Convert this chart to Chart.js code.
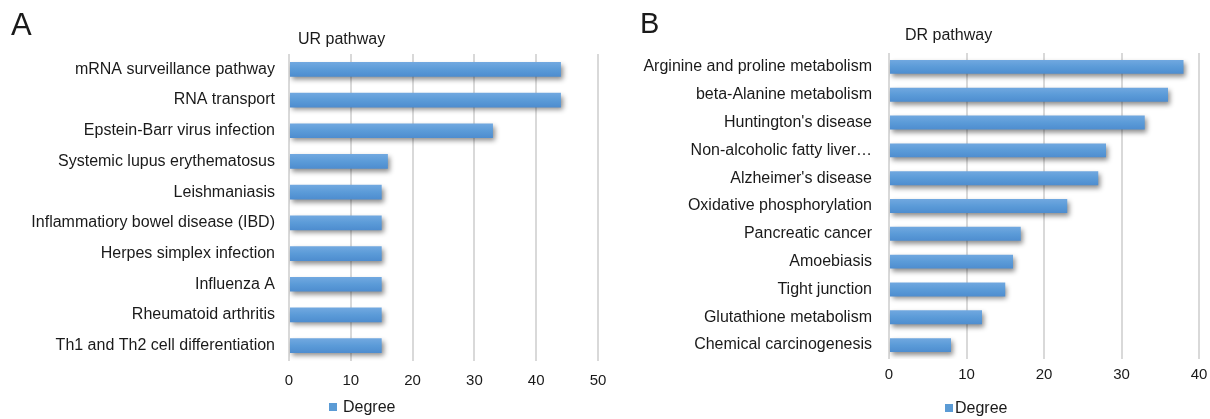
<!DOCTYPE html>
<html>
<head>
<meta charset="utf-8">
<script src="https://cdn.jsdelivr.net/npm/chart.js@4.4.1/dist/chart.umd.min.js"></script>
<style>
  html, body { margin: 0; padding: 0; background: #fff; }
  #wrap { position: relative; width: 1210px; height: 419px; overflow: hidden; }
  .panel { position: absolute; top: 0; height: 419px; }
  #panelA { left: 0; width: 620px; }
  #panelB { left: 620px; width: 590px; }
</style>
</head>
<body>
<div id="wrap">
  <div class="panel" id="panelA"><canvas id="chartA"></canvas></div>
  <div class="panel" id="panelB"><canvas id="chartB"></canvas></div>
</div>
<script>
// Up-regulated pathways
const urPathways = [
  'mRNA surveillance pathway',
  'RNA transport',
  'Epstein-Barr virus infection',
  'Systemic lupus erythematosus',
  'Leishmaniasis',
  'Inflammatiory bowel disease (IBD)',
  'Herpes simplex infection',
  'Influenza A',
  'Rheumatoid arthritis',
  'Th1 and Th2 cell differentiation'
];
const urDegree = [44, 44, 33, 16, 15, 15, 15, 15, 15, 15];
const urTicks = [0, 10, 20, 30, 40, 50];

// Down-regulated pathways
const drPathways = [
  'Arginine and proline metabolism',
  'beta-Alanine metabolism',
  "Huntington's disease",
  'Non-alcoholic fatty liver…',
  "Alzheimer's disease",
  'Oxidative phosphorylation',
  'Pancreatic cancer',
  'Amoebiasis',
  'Tight junction',
  'Glutathione metabolism',
  'Chemical carcinogenesis'
];
const drDegree = [38, 36, 33, 28, 27, 23, 17, 16, 15, 12, 8];
const drTicks = [0, 10, 20, 30, 40];

const seriesName = 'Degree';

const FONT = '"Liberation Sans", Arial, Helvetica, sans-serif';
const TEXT = '#1a1a1a';
const GRID = '#d9d9d9';

// Excel-like bar fill: light top edge fading into a deeper blue
function barGradient(ctx) {
  const chart = ctx.chart;
  if (!chart.chartArea || ctx.type !== 'data') return '#5b9bd5';
  const yScale = chart.scales.y;
  const cy = yScale.getPixelForValue(ctx.dataIndex);
  const half = 8;
  const g = chart.ctx.createLinearGradient(0, cy - half, 0, cy + half);
  g.addColorStop(0, '#74aae1');
  g.addColorStop(0.5, '#5b9bd8');
  g.addColorStop(1, '#4c8bce');
  return g;
}

// Soft drop shadow under the bars
const barShadow = {
  id: 'barShadow',
  beforeDatasetsDraw(chart) {
    const c = chart.ctx;
    c.save();
    c.shadowColor = 'rgba(0,0,0,0.45)';
    c.shadowBlur = 5;
    c.shadowOffsetX = 2;
    c.shadowOffsetY = 3;
  },
  afterDatasetsDraw(chart) {
    chart.ctx.restore();
  }
};

// Panel letter, pathway heading and series key
const panelText = {
  id: 'panelText',
  afterDraw(chart, args, opts) {
    const c = chart.ctx;
    c.save();
    c.fillStyle = TEXT;
    c.textBaseline = 'alphabetic';
    c.textAlign = 'left';
    c.font = opts.letterSize + 'px ' + FONT;
    c.fillText(opts.letter, opts.letterX, opts.letterY);
    c.font = '16px ' + FONT;
    c.fillText(opts.heading, opts.headingX, opts.headingY);
    c.fillStyle = '#5b9bd5';
    c.fillRect(opts.keyX, opts.keyY - 4, 8, 8);
    c.fillStyle = TEXT;
    c.textBaseline = 'middle';
    c.fillText(seriesName, opts.keyX + opts.keyGap, opts.keyY + 1);
    c.restore();
  }
};

function makeChart(id, labels, values, ticks, cfg) {
  const maxTick = ticks[ticks.length - 1];
  return new Chart(document.getElementById(id), {
    type: 'bar',
    data: {
      labels: labels,
      datasets: [{
        label: seriesName,
        data: values,
        backgroundColor: barGradient,
        borderWidth: 0,
        categoryPercentage: 1,
        barPercentage: cfg.barPct
      }]
    },
    options: {
      indexAxis: 'y',
      responsive: true,
      maintainAspectRatio: false,
      animation: false,
      devicePixelRatio: 1,
      layout: { padding: { left: 0, right: cfg.padRight, top: cfg.padTop, bottom: cfg.padBottom } },
      plugins: {
        legend: { display: false },
        title: { display: false },
        tooltip: { enabled: false },
        panelText: cfg.text
      },
      scales: {
        x: {
          min: 0,
          max: maxTick,
          afterBuildTicks(scale) { scale.ticks = ticks.map(v => ({ value: v })); },
          afterFit(scale) { scale.paddingLeft = 0; scale.paddingRight = 0; scale.height = cfg.xHeight; },
          grid: { color: GRID, lineWidth: 2, drawTicks: false },
          border: { display: false },
          ticks: { color: TEXT, font: { family: FONT, size: 15 }, padding: cfg.xPad, maxRotation: 0 }
        },
        y: {
          afterFit(scale) { scale.width = cfg.yWidth; scale.paddingTop = 0; scale.paddingBottom = 0; },
          grid: { display: false, drawTicks: false },
          border: { display: false },
          ticks: { color: TEXT, font: { family: FONT, size: 16 }, padding: cfg.yPad, autoSkip: false }
        }
      }
    },
    plugins: [barShadow, panelText]
  });
}

makeChart('chartA', urPathways, urDegree, urTicks, {
  barPct: 0.48, padRight: 22, padTop: 54, padBottom: 28, xHeight: 30, xPad: 11,
  yWidth: 289, yPad: 14,
  text: { letter: 'A', letterSize: 31, letterX: 11, letterY: 35, heading: 'UR pathway', headingX: 298, headingY: 44,
          keyX: 329, keyY: 407, keyGap: 14 }
});

makeChart('chartB', drPathways, drDegree, drTicks, {
  barPct: 0.5, padRight: 11, padTop: 53, padBottom: 30, xHeight: 30, xPad: 7,
  yWidth: 269, yPad: 17,
  text: { letter: 'B', letterSize: 29, letterX: 20, letterY: 33, heading: 'DR pathway', headingX: 285, headingY: 40,
          keyX: 325, keyY: 408, keyGap: 10 }
});
</script>
</body>
</html>
